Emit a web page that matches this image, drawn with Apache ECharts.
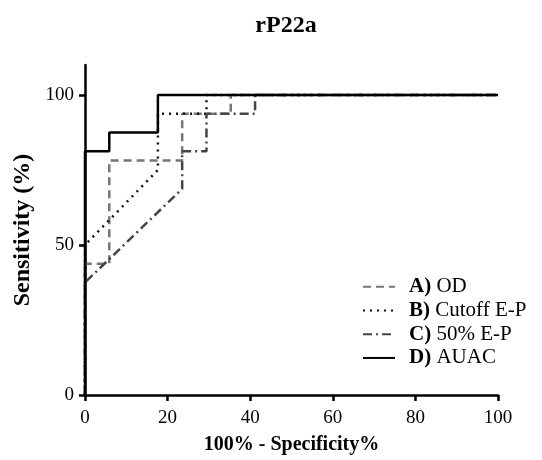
<!DOCTYPE html>
<html>
<head>
<meta charset="utf-8">
<script src="https://cdn.jsdelivr.net/npm/echarts@6/dist/echarts.min.js"></script>
<style>html,body{margin:0;padding:0;background:#fff}#c{width:542px;height:460px}</style>
</head>
<body>
<div id="c"></div>
<script>
var titleText = 'rP22a';
var xAxisName = '100% - Specificity%';
var yAxisName = 'Sensitivity (%)';
var xTicks = [0, 20, 40, 60, 80, 100];
var yTicks = [0, 50, 100];
var seriesNames = ['A) OD', 'B) Cutoff E-P', 'C) 50% E-P', 'D) AUAC'];
var odData = [[0,0],[0,43.75],[5.88,43.75],[5.88,78.13],[23.53,78.13],[23.53,93.75],[35.29,93.75],[35.29,100],[100,100]];
var cutoffData = [[0,0],[0,50],[17.65,75],[17.65,93.75],[29.41,93.75],[29.41,100],[100,100]];
var halfData = [[0,0],[0,37.5],[23.53,68.75],[23.53,81.25],[29.41,81.25],[29.41,93.75],[41.18,93.75],[41.18,100],[100,100]];
var auacData = [[0,0],[0,81.25],[5.88,81.25],[5.88,87.5],[17.65,87.5],[17.65,100],[100,100]];

var serif = '"Liberation Serif", "Times New Roman", serif';
var chart = echarts.init(document.getElementById('c'));
function mk(name, data, color, type, width) {
  return {
    name: name, type: 'line', data: data, symbol: 'none', showSymbol: false,
    lineStyle: {color: color, width: width, type: type},
    itemStyle: {color: color},
    animation: false, z: 3
  };
}
chart.setOption({
  backgroundColor: '#fff',
  animation: false,
  title: {
    text: titleText, left: 281, top: 9, textAlign: 'center',
    textStyle: {fontFamily: serif, fontWeight: 'bold', fontSize: 24, color: '#000'}
  },
  grid: {left: 85, right: 44, top: 65, bottom: 64, containLabel: false},
  legend: {
    orient: 'vertical', left: 362, top: 275, padding: 0,
    itemWidth: 32, itemHeight: 14, itemGap: 0, align: 'left',
    data: seriesNames,
    itemStyle: {opacity: 0},
    formatter: function (n) {
      var i = n.indexOf(' ');
      return '{b|' + n.slice(0, i) + '} {n|' + n.slice(i + 1) + '}';
    },
    textStyle: {
      fontFamily: serif, fontSize: 21, lineHeight: 23.7, color: '#000', padding: [0, 0, 0, 9],
      rich: {
        b: {fontFamily: serif, fontSize: 21, lineHeight: 23.7, fontWeight: 'bold', color: '#000'},
        n: {fontFamily: serif, fontSize: 21, lineHeight: 23.7, color: '#000'}
      }
    }
  },
  xAxis: {
    type: 'value', min: 0, max: 100, interval: 20,
    name: xAxisName, nameLocation: 'middle', nameGap: 40,
    nameTextStyle: {fontFamily: serif, fontWeight: 'bold', fontSize: 20, color: '#000'},
    axisLine: {show: true, onZero: false, lineStyle: {color: '#000', width: 2.5}},
    axisTick: {show: true, length: 6, lineStyle: {color: '#000', width: 2.5}, customValues: xTicks},
    axisLabel: {fontFamily: serif, fontSize: 19, color: '#000', margin: 14, customValues: xTicks},
    splitLine: {show: false}
  },
  yAxis: {
    type: 'value', min: 0, max: 110, interval: 50,
    name: yAxisName, nameLocation: 'middle', nameGap: 40, nameRotate: 90,
    nameTextStyle: {fontFamily: serif, fontWeight: 'bold', fontSize: 24, color: '#000'},
    axisLine: {show: true, onZero: false, lineStyle: {color: '#000', width: 2.5}},
    axisTick: {show: true, length: 6, lineStyle: {color: '#000', width: 2.5}, customValues: yTicks},
    axisLabel: {fontFamily: serif, fontSize: 19, color: '#000', margin: 11, customValues: yTicks},
    splitLine: {show: false}
  },
  series: [
    mk(seriesNames[0], odData, '#767676', [8, 5], 2.5),
    mk(seriesNames[1], cutoffData, '#111111', [2, 5], 2.5),
    mk(seriesNames[2], halfData, '#454545', [9, 4, 2, 4], 2.5),
    mk(seriesNames[3], auacData, '#000000', 'solid', 2.5)
  ]
});
</script>
</body>
</html>
